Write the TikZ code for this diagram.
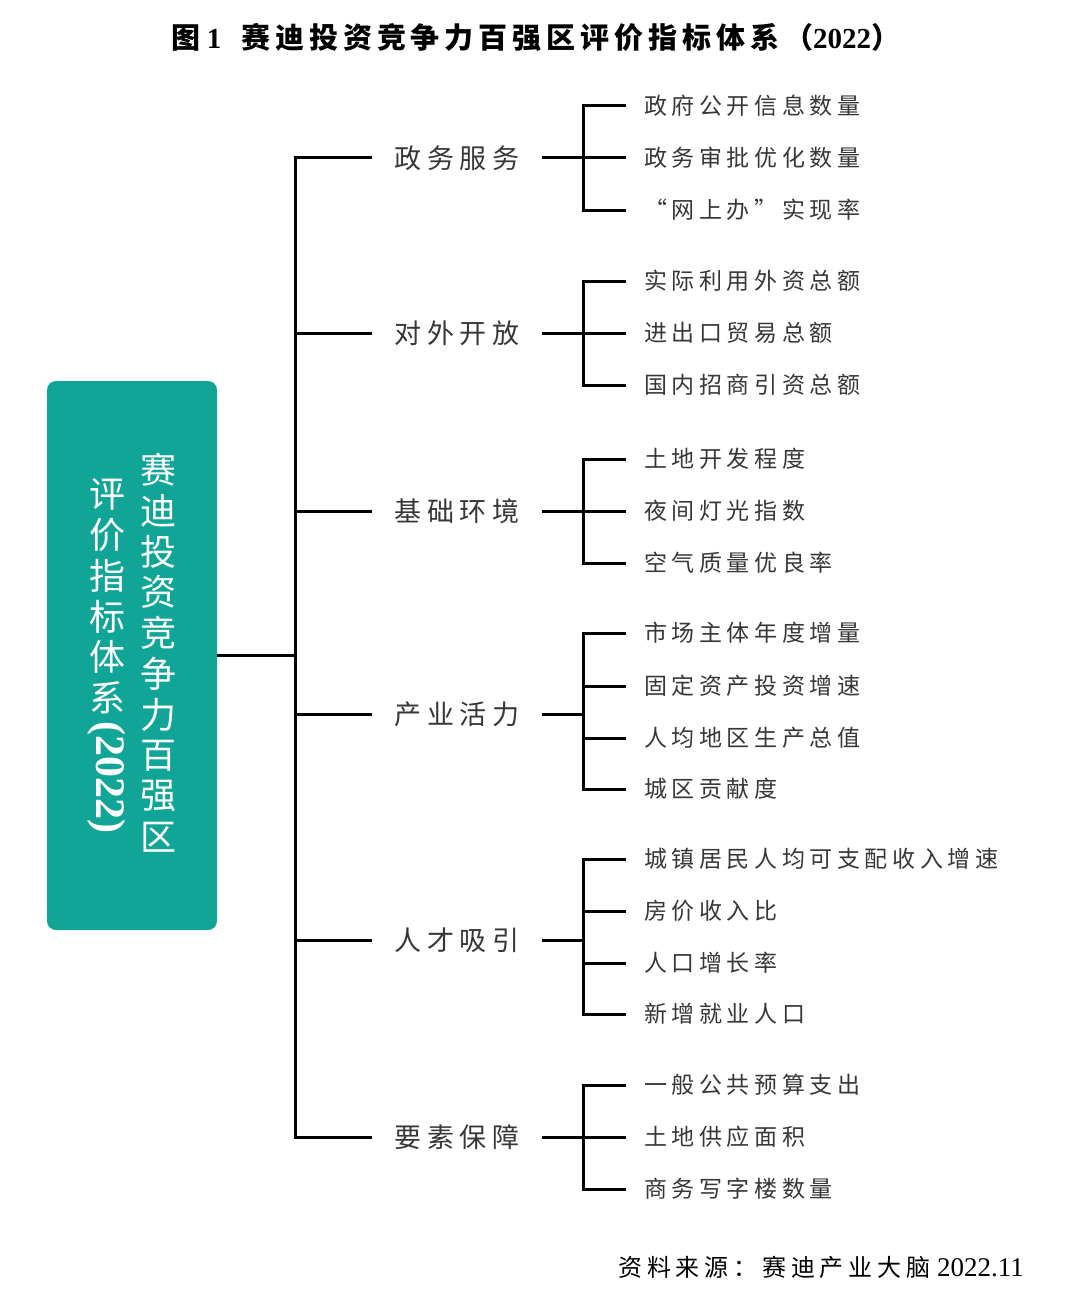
\documentclass[tikz,border=0pt]{standalone}
\usepackage{fontspec}
\usepackage{tikz}
\setmainfont{Liberation Serif}
\newfontfamily\cjk{Noto Sans CJK SC}
\newfontfamily\cjkwide[LetterSpace=20]{Noto Sans CJK SC}
\newfontfamily\cjktitle[LetterSpace=17]{Noto Sans CJK SC}
\definecolor{boxteal}{RGB}{16,165,150}
\definecolor{textgray}{RGB}{55,55,55}

\begin{document}
\begin{tikzpicture}[x=1pt, y=-1pt,
    branch/.style={black, line width=3pt},
    rootbox/.style={fill=boxteal, rounded corners=9pt, minimum width=170pt, minimum height=549pt, inner sep=0pt},
    rootchar/.style={text=white, inner sep=0pt, font=\cjk\fontsize{36}{36}\selectfont},
    catnode/.style={minimum width=170pt, inner sep=0pt, text=textgray, font=\cjkwide\fontsize{27}{27}\selectfont},
    itemnode/.style={anchor=west, inner xsep=18pt, inner ysep=0pt, text=textgray, font=\cjkwide\fontsize{23}{23}\selectfont}]
    \useasboundingbox (0,0) rectangle (1080,1292);
    \fill[white] (0,0) rectangle (1080,1292);

    \node[font=\bfseries\fontsize{29}{29}\selectfont] (title) at (536,37) {{\cjktitle 图}\hspace{6pt}1\hspace{20pt}{\cjktitle 赛迪投资竞争力百强区评价指标体系（}2022{\cjktitle ）}};

    % root box
    \node[rootbox] (root) at (132,655.5) {};
    \foreach \ch [count=\i] in {赛,迪,投,资,竞,争,力,百,强,区}
        \node[rootchar] (rootR\i) at (158,{470+40.8*(\i-1)}) {\ch};
    \foreach \ch [count=\i] in {评,价,指,标,体,系}
        \node[rootchar] (rootL\i) at (107,{494+40.8*(\i-1)}) {\ch};
    \node[rootchar, rotate=-90, font=\bfseries\fontsize{42}{42}\selectfont] (rootyear) at (107,777) {(2022)};

    % first level
    \node[catnode] (cat1) at (457,158) {政务服务};
    \node[catnode] (cat2) at (457,333) {对外开放};
    \node[catnode] (cat3) at (457,511) {基础环境};
    \node[catnode] (cat4) at (457,714) {产业活力};
    \node[catnode] (cat5) at (457,940) {人才吸引};
    \node[catnode] (cat6) at (457,1137) {要素保障};

    \coordinate (trunk) at (295,158);
    \coordinate (spine) at (583,0);
    \draw[branch] (cat1.west) -- (trunk) -- (trunk |- cat6.west) -- (cat6.west);
    \foreach \c in {cat2,cat3,cat4,cat5}
        \draw[branch] (\c.west) -- (\c.west -| trunk);
    \draw[branch] (root.east) -- (root.east -| trunk);

    % second level
    \node[itemnode] (g1a) at (626,106) {政府公开信息数量};
    \node[itemnode] (g1b) at (626,158) {政务审批优化数量};
    \node[itemnode] (g1c) at (626,210) {“网上办”实现率};

    \node[itemnode] (g2a) at (626,281) {实际利用外资总额};
    \node[itemnode] (g2b) at (626,333) {进出口贸易总额};
    \node[itemnode] (g2c) at (626,385) {国内招商引资总额};

    \node[itemnode] (g3a) at (626,459) {土地开发程度};
    \node[itemnode] (g3b) at (626,511) {夜间灯光指数};
    \node[itemnode] (g3c) at (626,563) {空气质量优良率};

    \node[itemnode] (g4a) at (626,633) {市场主体年度增量};
    \node[itemnode] (g4b) at (626,686) {固定资产投资增速};
    \node[itemnode] (g4c) at (626,738) {人均地区生产总值};
    \node[itemnode] (g4d) at (626,789) {城区贡献度};

    \node[itemnode] (g5a) at (626,859) {城镇居民人均可支配收入增速};
    \node[itemnode] (g5b) at (626,911) {房价收入比};
    \node[itemnode] (g5c) at (626,963) {人口增长率};
    \node[itemnode] (g5d) at (626,1014) {新增就业人口};

    \node[itemnode] (g6a) at (626,1085) {一般公共预算支出};
    \node[itemnode] (g6b) at (626,1137) {土地供应面积};
    \node[itemnode] (g6c) at (626,1189) {商务写字楼数量};

    \foreach \f/\l in {g1a/g1c,g2a/g2c,g3a/g3c,g4a/g4d,g5a/g5d,g6a/g6c}
        \draw[branch] (\f.west) -- (\f.west -| spine) -- (\l.west -| spine) -- (\l.west);
    \foreach \n in {g1b,g2b,g3b,g4b,g4c,g5b,g5c,g6b}
        \draw[branch] (\n.west) -- (\n.west -| spine);
    \foreach \c in {cat1,cat2,cat3,cat4,cat5,cat6}
        \draw[branch] (\c.east) -- (\c.east -| spine);

    \node[anchor=east, inner sep=0pt, font=\fontsize{27}{27}\selectfont] (source) at (1024,1267) {{\cjkwide\fontsize{24}{24}\selectfont 资料来源：赛迪产业大脑}\ 2022.11};
\end{tikzpicture}
\end{document}
